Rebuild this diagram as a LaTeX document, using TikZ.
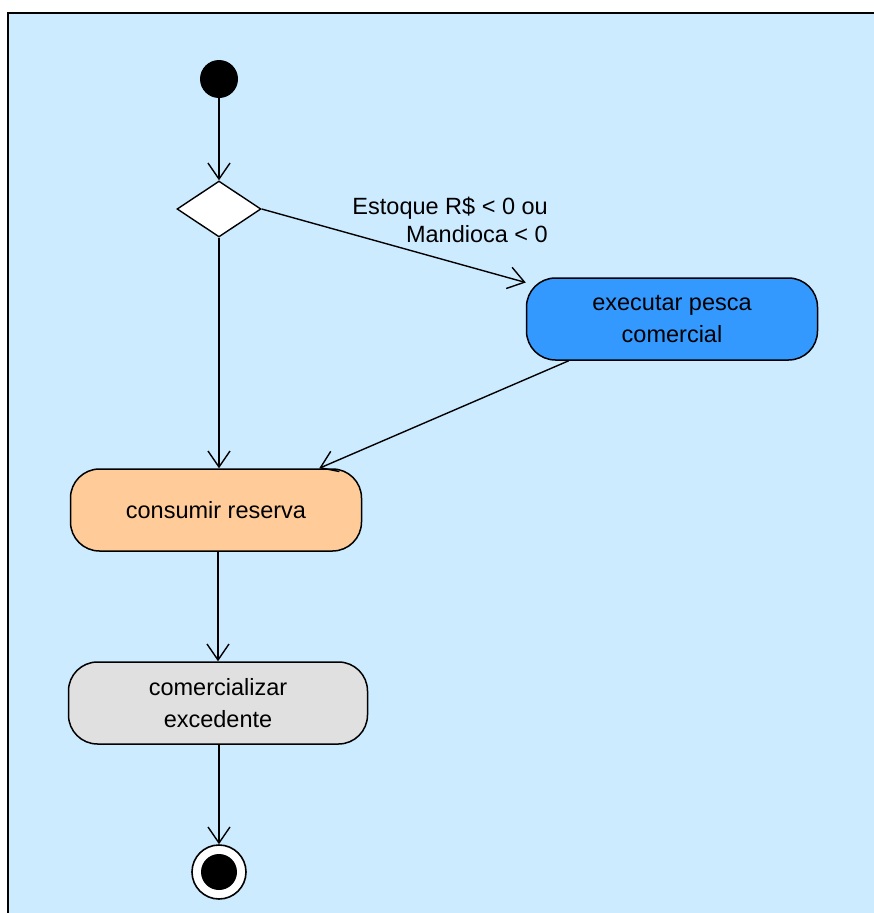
\documentclass[tikz,border=0pt]{standalone}
\usepackage{fontspec}
\setmainfont{Liberation Sans}
\usetikzlibrary{shapes.geometric,arrows.meta,positioning}
\definecolor{canvasblue}{HTML}{CCEBFF}
\definecolor{actblue}{HTML}{3399FF}
\definecolor{actorange}{HTML}{FFCC99}
\definecolor{actgrey}{HTML}{E0E0E0}
\tikzset{
  activity/.style={draw=black, line width=1.5pt, rounded corners=29pt,
    minimum height=82pt, align=center, font=\fontsize{23.5}{32}\selectfont, inner sep=0pt},
  flow/.style={draw=black, line width=1.4pt,
    -{Straight Barb[length=16pt, width=22pt, line width=1.4pt]}},
  guard/.style={font=\fontsize{23.5}{28}\selectfont, align=right, inner sep=0pt}
}
\begin{document}
\begin{tikzpicture}[x=1pt, y=-1pt]
  \useasboundingbox (0,0) rectangle (874,913);
  % canvas with its top and left frame lines
  \fill[canvasblue] (8,13) rectangle (874,913);
  \draw[line width=2.5pt] (8,913) -- (8,13) -- (874,13);

  % start, decision and end nodes
  \node[circle, fill=black, minimum size=38pt, inner sep=0pt] (start) at (219,79) {};
  \node[diamond, draw=black, fill=white, line width=1.4pt, minimum width=84pt,
        minimum height=56pt, inner sep=0pt] (dec) at (219,209) {};
  \node[circle, draw=black, fill=white, line width=1.6pt, minimum size=54pt, inner sep=0pt] (end) at (219,872) {};
  \node[circle, fill=black, minimum size=36pt, inner sep=0pt] (endcore) at (end.center) {};

  % activities
  \node[activity, fill=actblue, minimum width=291pt] (pesca) at (672,319) {executar pesca\\comercial};
  \node[activity, fill=actorange, minimum width=291pt] (reserva) at (216,510) {consumir reserva};
  \node[activity, fill=actgrey, minimum width=299pt] (excedente) at (218,703) {comercializar\\excedente};

  % guard text on the branch
  \node[guard, anchor=north east] (cond) at (548,197) {Estoque R\$ < 0 ou\\Mandioca < 0};

  % control flows
  \draw[flow] (start) -- (dec.north);
  \draw[flow] (dec.east) -- (pesca.166);
  \draw[flow] (dec.south) -- (dec.south |- reserva.north);
  \draw[flow] ([xshift=43pt]pesca.south west) -- ([xshift=-43pt]reserva.north east);
  \draw[flow] (reserva.south -| excedente.south) -- (excedente.north);
  \draw[flow] (excedente.south -| end.north) -- (end.north);
\end{tikzpicture}
\end{document}
